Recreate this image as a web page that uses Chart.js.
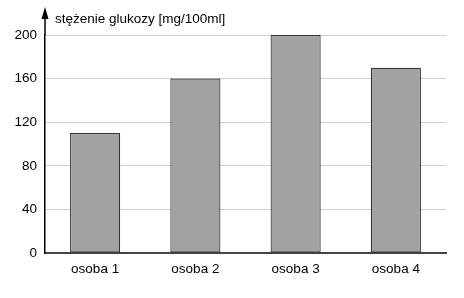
<!DOCTYPE html>
<html><head><meta charset="utf-8">
<script src="https://cdn.jsdelivr.net/npm/chart.js@4"></script>
<style>html,body{margin:0;padding:0;background:#fff;}#wrap{width:464px;height:298px;}</style>
</head><body><div id="wrap"><canvas id="c" width="464" height="298"></canvas></div>
<script>
const categories = ["osoba 1", "osoba 2", "osoba 3", "osoba 4"];
const values = [110, 160, 200, 170];
const yTicks = [0, 40, 80, 120, 160, 200];
const axisTitle = "stężenie glukozy [mg/100ml]";

const FONT = "'Liberation Sans', Arial, Helvetica, sans-serif";

const arrowPlugin = {
  id: 'arrowPlugin',
  afterDraw(chart) {
    const ctx = chart.ctx;
    const a = chart.chartArea;
    const x = chart.scales.y.right;
    ctx.save();
    ctx.strokeStyle = '#000';
    ctx.lineWidth = 1.5;
    ctx.beginPath();
    ctx.moveTo(x, a.top);
    ctx.lineTo(x, 16);
    ctx.stroke();
    ctx.fillStyle = '#000';
    ctx.beginPath();
    ctx.moveTo(x, 7);
    ctx.lineTo(x - 3.5, 19);
    ctx.lineTo(x + 3.5, 19);
    ctx.closePath();
    ctx.fill();
    ctx.font = "13.5px " + FONT;
    ctx.textBaseline = 'alphabetic';
    ctx.textAlign = 'left';
    ctx.fillText(axisTitle, x + 10, 23);
    ctx.restore();
  }
};

new Chart(document.getElementById('c'), {
  type: 'bar',
  data: {
    labels: categories,
    datasets: [{
      data: values,
      backgroundColor: '#a2a2a2',
      borderColor: '#333',
      borderWidth: 1.2,
      borderSkipped: false,
      barPercentage: 0.5,
      categoryPercentage: 1.0
    }]
  },
  options: {
    responsive: false,
    animation: false,
    devicePixelRatio: 1,
    layout: { padding: { left: 0, right: 18, top: 35, bottom: 0 } },
    plugins: { legend: { display: false }, tooltip: { enabled: false } },
    scales: {
      x: {
        grid: { display: false, drawTicks: false },
        border: { color: '#444', width: 2 },
        ticks: { color: '#000', font: { family: FONT, size: 13.5 }, padding: 8 },
        afterFit(s) { s.height = 45; }
      },
      y: {
        min: 0, max: 200,
        afterBuildTicks(s) { s.ticks = yTicks.map(v => ({ value: v })); },
        grid: { color: '#d0d0d0', lineWidth: 1, drawTicks: false },
        border: { color: '#000', width: 1.5 },
        ticks: { color: '#000', font: { family: FONT, size: 13.5 }, padding: 8 },
        afterFit(s) { s.width = 45; }
      }
    }
  },
  plugins: [arrowPlugin]
});
</script></body></html>
